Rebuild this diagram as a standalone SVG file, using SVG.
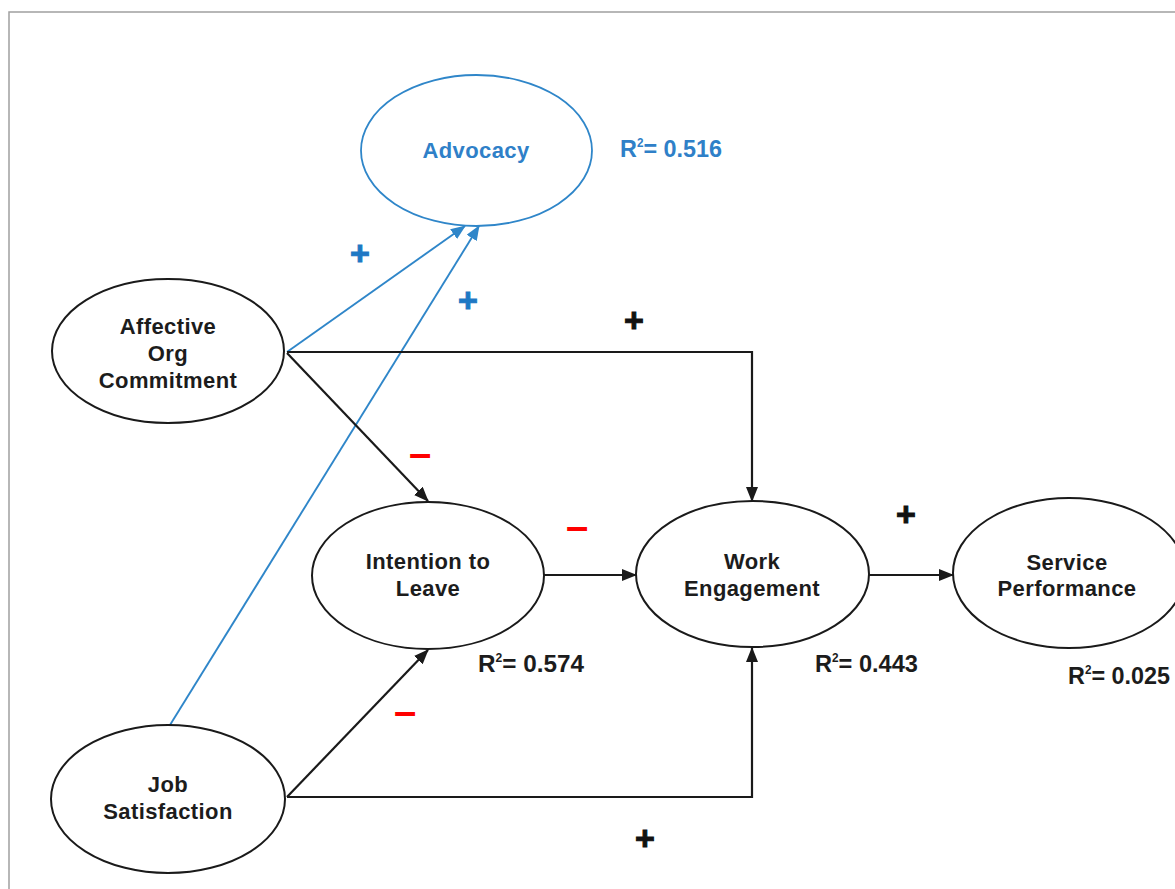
<svg xmlns="http://www.w3.org/2000/svg" width="1175" height="889" viewBox="0 0 1175 889">
<style>
.node{fill:#fff;stroke:#1a1a1a;stroke-width:2}
.bnode{fill:#fff;stroke:#2f86c9;stroke-width:1.8}
.lbl{font-family:"Liberation Sans",Arial,sans-serif;font-weight:bold;font-size:22px;fill:#1c1c1c;text-anchor:middle;letter-spacing:0.4px}
.blbl{fill:#2f80c8}
.r2{font-family:"Liberation Sans",Arial,sans-serif;font-weight:bold;font-size:24px;fill:#1c1c1c}
.sup{font-size:12px}
.conn{fill:none;stroke:#1a1a1a;stroke-width:2.2}
.bconn{fill:none;stroke:#2f86c9;stroke-width:1.9}
.sign{font-family:"Liberation Sans",Arial,sans-serif;font-weight:bold;text-anchor:middle}
.plus{font-size:34px;fill:#111;stroke:#111;stroke-width:1}
.bplus{font-size:34px;fill:#1f78c4;stroke:#1f78c4;stroke-width:1}
.minus{fill:#ff0000}
</style>
<defs>
<marker id="ah" markerUnits="userSpaceOnUse" markerWidth="15" markerHeight="12" refX="14" refY="6" orient="auto" viewBox="0 0 15 12">
<path d="M0,0 L15,6 L0,12 z" fill="#1a1a1a"/>
</marker>
<marker id="bah" markerUnits="userSpaceOnUse" markerWidth="15" markerHeight="12" refX="14" refY="6" orient="auto" viewBox="0 0 15 12">
<path d="M0,0 L15,6 L0,12 z" fill="#2f86c9"/>
</marker>
</defs>
<rect x="9" y="12" width="1250" height="950" fill="#fff" stroke="#a0a0a0" stroke-width="1.5"/>

<g id="connectors">
<line class="bconn" x1="287" y1="352" x2="465" y2="226" marker-end="url(#bah)"/>
<line class="bconn" x1="170" y1="725" x2="479" y2="226" marker-end="url(#bah)"/>
<line class="conn" x1="287" y1="353" x2="428" y2="501" marker-end="url(#ah)"/>
<path class="conn" d="M287,352 H752 V501" marker-end="url(#ah)"/>
<line class="conn" x1="287" y1="797" x2="428" y2="650" marker-end="url(#ah)"/>
<path class="conn" d="M287,797 H752 V648" marker-end="url(#ah)"/>
<path class="conn" d="M544,575 H636" marker-end="url(#ah)"/>
<path class="conn" d="M869,575 H953" marker-end="url(#ah)"/>
</g>

<g id="advocacy">
<ellipse class="bnode" cx="476.5" cy="150.5" rx="115.5" ry="75.5"/>
<text class="lbl blbl" x="476" y="158">Advocacy</text>
</g>
<g id="affective">
<ellipse class="node" cx="168" cy="351" rx="116" ry="72"/>
<text class="lbl" x="168" y="334">Affective</text>
<text class="lbl" x="168" y="361">Org</text>
<text class="lbl" x="168" y="388">Commitment</text>
</g>
<g id="intention">
<ellipse class="node" cx="428" cy="575.5" rx="116" ry="73.5"/>
<text class="lbl" x="428" y="569">Intention to</text>
<text class="lbl" x="428" y="596">Leave</text>
</g>
<g id="work">
<ellipse class="node" cx="752.5" cy="574" rx="116.5" ry="73"/>
<text class="lbl" x="752" y="569">Work</text>
<text class="lbl" x="752" y="596">Engagement</text>
</g>
<g id="service">
<ellipse class="node" cx="1069" cy="573" rx="116" ry="75"/>
<text class="lbl" x="1067" y="570">Service</text>
<text class="lbl" x="1067" y="596">Performance</text>
</g>
<g id="job">
<ellipse class="node" cx="168" cy="799" rx="117" ry="74"/>
<text class="lbl" x="168" y="792">Job</text>
<text class="lbl" x="168" y="819">Satisfaction</text>
</g>

<g id="r2-labels">
<text class="r2" x="620" y="157" style="fill:#2f80c8" textLength="102" lengthAdjust="spacingAndGlyphs">R<tspan class="sup" dy="-10">2</tspan><tspan dy="10">= 0.516</tspan></text>
<text class="r2" x="478" y="672" textLength="106" lengthAdjust="spacingAndGlyphs">R<tspan class="sup" dy="-10">2</tspan><tspan dy="10">= 0.574</tspan></text>
<text class="r2" x="815" y="672" textLength="103" lengthAdjust="spacingAndGlyphs">R<tspan class="sup" dy="-10">2</tspan><tspan dy="10">= 0.443</tspan></text>
<text class="r2" x="1068" y="684" textLength="102" lengthAdjust="spacingAndGlyphs">R<tspan class="sup" dy="-10">2</tspan><tspan dy="10">= 0.025</tspan></text>
</g>

<g id="signs">
<text class="sign bplus" x="360" y="265">+</text>
<text class="sign bplus" x="468" y="312">+</text>
<text class="sign plus" x="634" y="332">+</text>
<text class="sign plus" x="906" y="526">+</text>
<text class="sign plus" x="645" y="850">+</text>
<text class="sign minus" x="420" y="467" font-size="40">–</text>
<text class="sign minus" x="577" y="540" font-size="40">–</text>
<text class="sign minus" x="405" y="725" font-size="40">–</text>
</g>
</svg>
